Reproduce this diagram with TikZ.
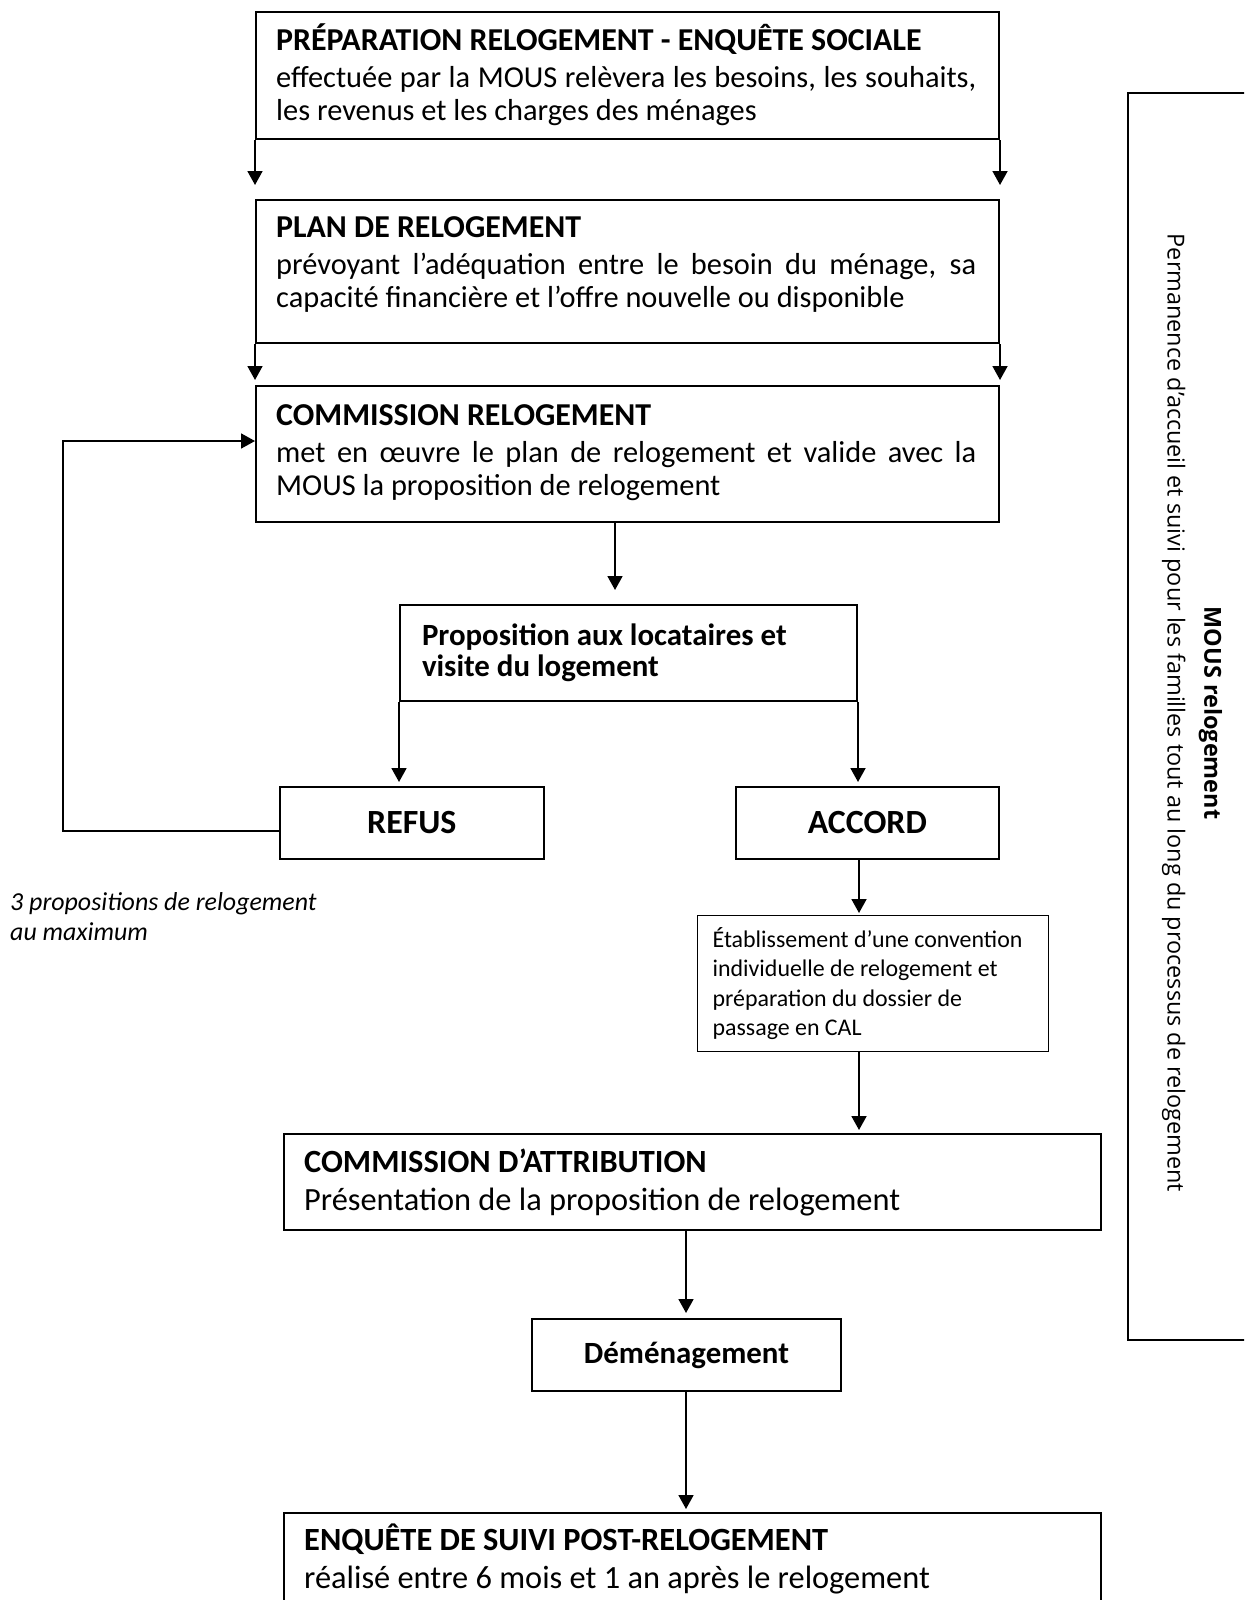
\documentclass[tikz,border=0pt]{standalone}
\usepackage{fontspec}
\setmainfont{Carlito}
\newfontfamily\rfont{Open Sans}
\usetikzlibrary{arrows.meta}
\hyphenpenalty=10000
\exhyphenpenalty=10000
\newcommand{\ttl}{\fontsize{32}{34}\selectfont\bfseries}
\begin{document}
\begin{tikzpicture}[x=1bp,y=-1bp,
  box/.style={draw, line width=2bp, rectangle, anchor=north west, inner ysep=0pt, inner xsep=0pt},
  arr/.style={line width=1.8bp, -{Triangle[length=14bp,width=15bp]}},
  txt/.style={anchor=north west, inner sep=0pt},
  bodyfont/.style={font=\fontsize{30.5}{34}\selectfont},
  bigfont/.style={font=\fontsize{32.5}{38}\selectfont}
]
\useasboundingbox (0,0) rectangle (1244,1600);
\clip (0,0) rectangle (1244,1600);

% boxes
\node[box, minimum width=743bp, minimum height=127bp] (b1) at (255,11) {};
\node[box, minimum width=743bp, minimum height=143bp] (b2) at (255,199) {};
\node[box, minimum width=743bp, minimum height=136bp] (b3) at (255,385) {};
\node[box, minimum width=457bp, minimum height=96bp, inner xsep=22bp, text width=413bp, align=flush left,
      font=\fontsize{31}{31}\selectfont\bfseries] (b4) at (399,604)
 {Proposition aux locataires et\\visite du logement};
\node[box, line width=1.7bp, minimum width=264bp, minimum height=72bp, font=\fontsize{34}{36}\selectfont\bfseries] (refus) at (279,786) {REFUS};
\node[box, line width=1.7bp, minimum width=263bp, minimum height=72bp, font=\fontsize{34}{36}\selectfont\bfseries] (accord) at (735,786) {ACCORD};
\node[box, line width=1.2bp, minimum width=351bp, minimum height=136bp, inner xsep=15bp, text width=321bp, align=flush left,
      font=\fontsize{24}{29.7}\selectfont] (etab) at (697,915)
 {Établissement d’une convention individuelle de relogement et préparation du dossier de passage en CAL};
\node[box, minimum width=817bp, minimum height=96bp] (ca) at (283,1133) {};
\node[box, minimum width=309bp, minimum height=72bp, font=\fontsize{31}{33}\selectfont\bfseries] (dem) at (531,1318) {Déménagement};
\node[box, minimum width=817bp, minimum height=130bp] (enq) at (283,1512) {};
\node[box, minimum width=150bp, minimum height=1247bp] (mous) at (1127,92) {};

% texts inside the large boxes
\node[txt, bodyfont, text width=700bp, align=justify] (t1) at (276,20)
 {\rule{0pt}{30bp}{\ttl PRÉPARATION RELOGEMENT - ENQUÊTE SOCIALE}\\[3bp]
 effectuée par la MOUS relèvera les besoins, les souhaits,\linebreak les revenus et les charges des ménages};
\node[txt, bodyfont, text width=700bp, align=justify] (t2) at (276,207)
 {\rule{0pt}{30bp}{\ttl PLAN DE RELOGEMENT}\\[3bp]
 prévoyant l’adéquation entre le besoin du ménage, sa\linebreak capacité financière et l’offre nouvelle ou disponible};
\node[txt, bodyfont, text width=700bp, align=justify] (t3) at (276,395)
 {\rule{0pt}{30bp}{\ttl COMMISSION RELOGEMENT}\\[3bp]
 met en œuvre le plan de relogement et valide avec la\linebreak MOUS la proposition de relogement};
\node[txt, bigfont, text width=780bp, align=flush left] (tca) at (304,1142)
 {\rule{0pt}{30bp}\textbf{COMMISSION D’ATTRIBUTION}\\Présentation de la proposition de relogement};
\node[txt, bigfont, text width=780bp, align=flush left] (tenq) at (304,1520)
 {\rule{0pt}{30bp}\textbf{ENQUÊTE DE SUIVI POST-RELOGEMENT}\\réalisé entre 6 mois et 1 an après le relogement};

\node[txt, align=flush left, font=\itshape\fontsize{26}{30}\selectfont] (note) at (10,880)
 {\rule{0pt}{30bp}3 propositions de relogement\\au maximum};

\node[rotate=-90, align=center, inner sep=0pt, font=\rfont\fontsize{23.5}{37}\selectfont] (mt) at (1192,713)
 {\textbf{MOUS relogement}\\Permanence d’accueil et suivi pour les familles tout au long du processus de relogement};

% connectors
\coordinate (xa) at (615,0);
\coordinate (xb) at (859,0);
\coordinate (xc) at (686,0);
\draw[arr, shorten >=14bp] (b1.south west) -- (b2.north west);
\draw[arr, shorten >=14bp] (b1.south east) -- (b2.north east);
\draw[arr, shorten >=5bp] (b2.south west) -- (b3.north west);
\draw[arr, shorten >=5bp] (b2.south east) -- (b3.north east);
\draw[arr, shorten >=14bp] (b3.south -| xa) -- (b4.north -| xa);
\draw[arr, shorten >=4bp] (b4.south west) -- (b4.south west |- refus.north);
\draw[arr, shorten >=4bp] (b4.south east) -- (b4.south east |- accord.north);
\coordinate (c1) at (63,831);
\coordinate (c2) at (63,441);
\draw[arr] (refus.west |- c1) -- (c1) -- (c2) -- (b3.west |- c2);
\draw[arr, shorten >=2bp] (accord.south -| xb) -- (etab.north -| xb);
\draw[arr, shorten >=3bp] (etab.south -| xb) -- (ca.north -| xb);
\draw[arr, shorten >=5bp] (ca.south -| xc) -- (dem.north -| xc);
\draw[arr, shorten >=3bp] (dem.south -| xc) -- (enq.north -| xc);
\end{tikzpicture}
\end{document}
